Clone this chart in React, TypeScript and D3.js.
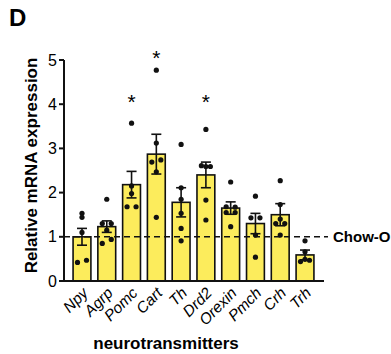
import React from "react";
import * as d3 from "d3";

const categories = ["Npy", "Agrp", "Pomc", "Cart", "Th", "Drd2", "Orexin", "Pmch", "Crh", "Trh"];
const means = [1.0, 1.23, 2.18, 2.87, 1.78, 2.4, 1.65, 1.3, 1.5, 0.59];
const sems = [0.19, 0.13, 0.3, 0.45, 0.33, 0.29, 0.14, 0.23, 0.25, 0.11];
const points: number[][] = [
  [1.53, 1.44, 1.1, 0.42, 0.47],
  [1.85, 1.3, 1.3, 1.15, 0.85, 0.94],
  [3.57, 2.15, 1.98, 1.68, 1.68],
  [4.77, 3.12, 2.69, 2.74, 2.47, 1.44],
  [3.09, 2.11, 1.85, 1.53, 1.19, 0.91],
  [3.43, 2.61, 2.59, 2.59, 1.83, 1.38],
  [2.24, 1.68, 1.67, 1.55, 1.55, 1.23],
  [1.92, 1.43, 1.43, 1.04, 0.54],
  [2.27, 1.73, 1.4, 1.3, 1.3, 1.04],
  [0.91, 0.66, 0.44, 0.49, 0.47],
];
const jitter: number[][] = [
  [0, 0, 0, -1, 1],
  [0, -1, 1, 0, -1, 1],
  [0, 0, 0, -1, 1],
  [0, 0, -1, 1, 0, 0],
  [0, 0, 0, 0, 0, 0],
  [0, -1, 0, 1, 0, 0],
  [0, -1, 1, -1, 1, 0],
  [0, -1, 1, 0, 0],
  [0, 0, 0, -1, 1, 0],
  [0, 0, -1, 0, 1],
];
const significant = ["Pomc", "Cart", "Drd2"];
const starLevels = [4.1, 5.1, 4.1];
const yTicks = [0, 1, 2, 3, 4, 5];
const refValue = 1;
const refLabel = "Chow-O";

export default function App() {
  const W = 391, H = 354;
  const x0 = 64, x1 = 324;
  const y = d3.scaleLinear().domain([0, 5]).range([281, 60]);
  const x = d3.scaleBand().domain(categories).range([69.6, 317.4]).paddingInner(0.28).paddingOuter(0.14);
  const bw = x.bandwidth();
  const font = "Liberation Sans, Arial, Helvetica, sans-serif";
  const fill = "#FCEC5C";
  return (
    <svg width={W} height={H} style={{ position: "absolute", left: 0, top: 0, background: "#fff" }} fontFamily={font}>
      <text x={9} y={26} fontSize={24} fontWeight="bold">D</text>
      {/* bars */}
      {categories.map((c, i) => (
        <rect key={c} x={x(c)!} y={y(means[i])} width={bw} height={y(0) - y(means[i])}
          fill={fill} stroke="#111" strokeWidth={1.6} />
      ))}
      {/* reference dashed line */}
      <line x1={x0} x2={328} y1={y(refValue)} y2={y(refValue)} stroke="#111" strokeWidth={1.6} strokeDasharray="6,4" />
      <text x={333} y={y(refValue) + 5.5} fontSize={15} fontWeight="bold">{refLabel}</text>
      {/* error bars */}
      {categories.map((c, i) => {
        const cx = x(c)! + bw / 2;
        return (
          <g key={c} stroke="#111" strokeWidth={1.6}>
            <line x1={cx} x2={cx} y1={y(means[i] - sems[i])} y2={y(means[i] + sems[i])} />
            <line x1={cx - 5} x2={cx + 5} y1={y(means[i] + sems[i])} y2={y(means[i] + sems[i])} />
            <line x1={cx - 5} x2={cx + 5} y1={y(means[i] - sems[i])} y2={y(means[i] - sems[i])} />
          </g>
        );
      })}
      {/* points */}
      {categories.map((c, i) => {
        const cx = x(c)! + bw / 2;
        return points[i].map((v, j) => (
          <circle key={c + j} cx={cx + jitter[i][j] * 4.5} cy={y(v)} r={2.6} fill="#111" />
        ));
      })}
      {/* stars */}
      {significant.map((c, k) => (
        <text key={c} x={x(c)! + bw / 2} y={y(starLevels[k]) + 9} fontSize={21} textAnchor="middle">*</text>
      ))}
      {/* y axis */}
      <line x1={x0} x2={x0} y1={y(5)} y2={y(0)} stroke="#111" strokeWidth={2} />
      {yTicks.map((t) => (
        <g key={t}>
          <line x1={x0 - 5} x2={x0} y1={y(t)} y2={y(t)} stroke="#111" strokeWidth={2} />
          <text x={x0 - 7} y={y(t) + 5.5} fontSize={16} textAnchor="end">{t}</text>
        </g>
      ))}
      {/* x axis */}
      <line x1={x0} x2={x1} y1={y(0)} y2={y(0)} stroke="#111" strokeWidth={2} />
      {categories.map((c) => {
        const cx = x(c)! + bw / 2 + 7;
        return (
          <text key={c} x={cx} y={294} fontSize={15.5} fontStyle="italic" textAnchor="end"
            transform={`rotate(-45 ${cx} ${294})`}>{c}</text>
        );
      })}
      <text transform={`translate(37 ${(y(0) + y(5)) / 2 - 5}) rotate(-90)`} fontSize={17} fontWeight="bold" textAnchor="middle">
        Relative mRNA expression
      </text>
      <text x={166} y={349} fontSize={17} fontWeight="bold" textAnchor="middle">neurotransmitters</text>
    </svg>
  );
}
